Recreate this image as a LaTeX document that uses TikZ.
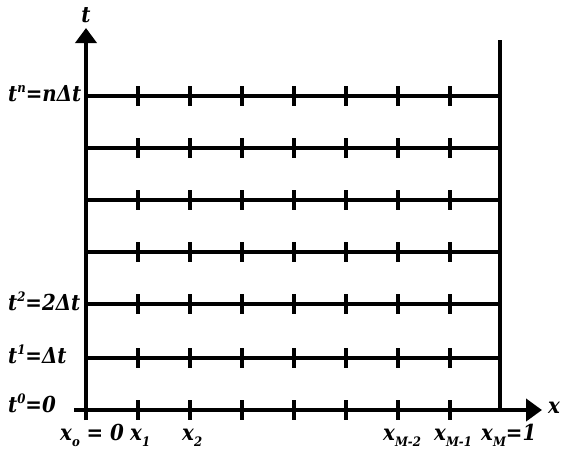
\documentclass[tikz,border=0pt]{standalone}
\usepackage{fontspec}
\setmainfont{DejaVu Serif}[FakeStretch=0.9]
\usetikzlibrary{arrows.meta}
\newcommand\myup[1]{\raisebox{0.75ex}{\fontsize{13}{13}\selectfont #1}}
\newcommand\mydn[1]{\raisebox{-0.55ex}{\fontsize{13}{13}\selectfont #1}}
\begin{document}
\begin{tikzpicture}[x=1pt,y=-1pt,
  ln/.style={line width=4pt},
  tk/.style={line width=4pt},
  lbl/.style={inner sep=0pt,font=\fontsize{22}{24}\selectfont\bfseries\itshape}]
\useasboundingbox (0,0) rectangle (561,448);
% axes
\coordinate (ob) at (86,420);
\coordinate (ot) at (86,28);
\coordinate (al) at (74,410);
\coordinate (ar) at (542,410);
\coordinate (rt) at (500,42);
\coordinate (rb) at (500,410);
\draw[ln,-{Triangle[width=21pt,length=15pt]}] (ob) -- (ot);
\draw[ln,-{Triangle[width=22pt,length=16pt]}] (al) -- (ar);
\draw[ln,line cap=rect] (rt) -- (rb);
% grid lines
\foreach \yy in {96,148,200,252,304,358}{
  \coordinate (l\yy) at (86,\yy);
  \coordinate (r\yy) at (500,\yy);
  \draw[ln] (l\yy) -- (r\yy);
}
% ticks
\foreach \yy in {96,148,200,252,304,358,410}{
  \foreach \xx in {138,190,242,294,346,398,450}{
    \coordinate (a\xx-\yy) at (\xx,\yy-10);
    \coordinate (b\xx-\yy) at (\xx,\yy+10);
    \draw[tk] (a\xx-\yy) -- (b\xx-\yy);
  }
}
% labels
\node[lbl,anchor=base] (tl) at (86,22) {t};
\node[lbl,anchor=base west] (xl) at (548,413) {x};
\node[lbl,anchor=base west] (tn) at (8,101) {t\myup{n}=nΔt};
\node[lbl,anchor=base west] (t2) at (8,310) {t\myup{2}=2Δt};
\node[lbl,anchor=base west] (t1) at (8,363) {t\myup{1}=Δt};
\node[lbl,anchor=base west] (t0) at (8,412) {t\myup{0}=0};
\node[lbl,anchor=base west] (x0) at (60,440) {x\mydn{o} = 0};
\node[lbl,anchor=base west] (x1) at (130,440) {x\mydn{1}};
\node[lbl,anchor=base west] (x2) at (182,440) {x\mydn{2}};
\node[lbl,anchor=base west] (xm2) at (383,440) {x\mydn{M-2}};
\node[lbl,anchor=base west] (xm1) at (434,440) {x\mydn{M-1}};
\node[lbl,anchor=base west] (xm) at (481,440) {x\mydn{M}=1};
\end{tikzpicture}
\end{document}
